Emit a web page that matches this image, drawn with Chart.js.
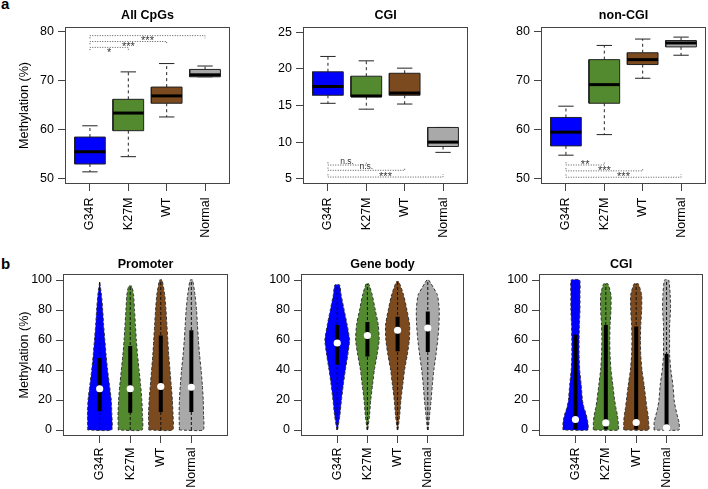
<!DOCTYPE html>
<html><head><meta charset="utf-8">
<script src="https://cdn.jsdelivr.net/npm/chart.js@4"></script>
<style>
body{margin:0;background:#fff;width:708px;height:489px;position:relative;overflow:hidden;font-family:'Liberation Sans',Arial,sans-serif}
canvas{position:absolute;left:0;top:0}
.pl{position:absolute;font:bold 15px 'Liberation Sans',Arial,sans-serif;line-height:15px;color:#000}
</style></head><body>
<div class="pl" style="left:1px;top:-4px">a</div>
<div class="pl" style="left:1px;top:256px">b</div>
<canvas id="c1" width="708" height="489"></canvas>
<canvas id="c2" width="708" height="489"></canvas>
<canvas id="c3" width="708" height="489"></canvas>
<canvas id="c4" width="708" height="489"></canvas>
<canvas id="c5" width="708" height="489"></canvas>
<canvas id="c6" width="708" height="489"></canvas>
<script>
// ---------- DATA ----------
const groups = ['G34R','K27M','WT','Normal'];

// Panel a: box plot statistics (lower whisker, Q1, median, Q3, upper whisker)
const allCpgLow  = [51.4, 54.5, 62.6, 70.8];
const allCpgQ1   = [53.0, 59.8, 65.4, 70.8];
const allCpgMed  = [55.5, 63.4, 66.9, 71.2];
const allCpgQ3   = [58.5, 66.2, 68.7, 72.3];
const allCpgHigh = [60.8, 71.8, 73.5, 73.0];

const cgiLow  = [15.3, 14.5, 15.2, 8.6];
const cgiQ1   = [16.4, 16.2, 16.4, 9.4];
const cgiMed  = [17.6, 16.3, 16.7, 10.0];
const cgiQ3   = [19.6, 19.0, 19.4, 12.0];
const cgiHigh = [21.7, 21.1, 20.1, 12.0];

const nonCgiLow  = [54.8, 59.0, 70.5, 75.2];
const nonCgiQ1   = [56.7, 65.4, 73.3, 76.9];
const nonCgiMed  = [59.5, 69.2, 74.3, 77.7];
const nonCgiQ3   = [62.5, 74.3, 75.7, 78.2];
const nonCgiHigh = [64.8, 77.2, 78.5, 78.9];

const allCpgTicks = [50, 60, 70, 80];
const cgiTicks    = [5, 10, 15, 20, 25];
const nonCgiTicks = [50, 60, 70, 80];
const pctTicks    = [0, 20, 40, 60, 80, 100];

// significance brackets
const allCpgSigPairs = [[1,4],[1,3],[1,2]];
const allCpgSigY     = [79.2, 78.0, 76.8];
const allCpgSigText  = ['***','***','*'];
const cgiSigPairs = [[1,2],[1,3],[1,4]];
const cgiSigY     = [6.87, 6.15, 5.23];
const cgiSigText  = ['n.s.','n.s.','***'];
const nonCgiSigPairs = [[1,2],[1,3],[1,4]];
const nonCgiSigY     = [52.8, 51.6, 50.3];
const nonCgiSigText  = ['**','***','***'];

// Panel b: violins (half-width of density at each level, per group)
const promoterLevels = [0, 10, 20, 30, 40, 50, 60, 70, 80, 90];
const promoterWidth = [
  [0.39,0.40,0.38,0.32,0.26,0.21,0.17,0.13,0.10,0.06],
  [0.39,0.40,0.38,0.34,0.29,0.24,0.20,0.17,0.14,0.11],
  [0.39,0.40,0.38,0.34,0.30,0.26,0.23,0.20,0.17,0.13],
  [0.39,0.40,0.39,0.36,0.32,0.27,0.23,0.20,0.17,0.12]];
const promoterMax = [98.8, 95.9, 100, 100];
const promoterTopWidth = [0.0, 0.05, 0.04, 0.04];
const promoterQ1  = [12.5, 11.5, 12, 12];
const promoterMed = [27.5, 27.5, 29, 28.5];
const promoterQ3  = [48, 56, 63, 66.5];

const geneBodyLevels = [0, 10, 20, 30, 40, 50, 60, 70, 80, 90];
const geneBodyWidth = [
  [0.01,0.09,0.14,0.20,0.27,0.35,0.41,0.33,0.23,0.13],
  [0.01,0.07,0.11,0.17,0.23,0.32,0.39,0.36,0.26,0.16],
  [0.01,0.07,0.11,0.17,0.23,0.32,0.39,0.40,0.31,0.20],
  [0.01,0.06,0.11,0.15,0.20,0.27,0.33,0.37,0.38,0.32]];
const geneBodyMax = [96.7, 97.5, 98.9, 100];
const geneBodyTopWidth = [0.08, 0.04, 0.04, 0.03];
const geneBodyQ1  = [43.5, 49, 52.5, 52];
const geneBodyMed = [58, 63, 66.5, 68];
const geneBodyQ3  = [70, 72, 75.5, 79];

const cgiVioLevels = [0, 5, 10, 15, 20, 30, 40, 50, 60, 70, 80, 90];
const cgiVioWidth = [
  [0.41,0.41,0.36,0.28,0.23,0.19,0.14,0.12,0.12,0.13,0.15,0.15],
  [0.41,0.41,0.38,0.33,0.29,0.23,0.17,0.14,0.13,0.14,0.17,0.17],
  [0.41,0.41,0.39,0.35,0.32,0.26,0.19,0.15,0.14,0.15,0.18,0.18],
  [0.41,0.41,0.35,0.29,0.25,0.21,0.14,0.10,0.10,0.10,0.13,0.12]];
const cgiVioMax = [100, 97.5, 97.5, 100];
const cgiVioTopWidth = [0.14, 0.07, 0.07, 0.07];
const cgiVioQ1  = [0.5, 0.5, 0.5, 0.5];
const cgiVioMed = [7, 4.7, 5, 1.5];
const cgiVioQ3  = [63.5, 70, 69, 50.8];

// ---------- STYLE ----------
const groupColors = ['#0000FF', '#548A2F', '#7B4A1E', '#A9A9A9'];
const FONT = "'Liberation Sans', Arial, sans-serif";
Chart.defaults.font.family = FONT;
Chart.defaults.color = '#000';

function boxDatasets(low, q1, med, q3, high) {
  const hw = 0.4, sw = 0.2, ds = [];
  groups.forEach((g, k) => {
    const i = k + 1;
    ds.push({data: [{x:i-hw,y:q1[k]},{x:i+hw,y:q1[k]},{x:i+hw,y:q3[k]},{x:i-hw,y:q3[k]},{x:i-hw,y:q1[k]}],
      fill: 'shape', backgroundColor: groupColors[k], borderColor: '#222', borderWidth: 1, order: 2});
    ds.push({data: [{x:i-hw,y:med[k]},{x:i+hw,y:med[k]}], borderColor: '#000', borderWidth: 3, borderCapStyle: 'butt', order: 1});
    ds.push({data: [{x:i,y:q3[k]},{x:i,y:high[k]},{x:i,y:null},{x:i,y:q1[k]},{x:i,y:low[k]}],
      borderColor: '#222', borderWidth: 1, borderDash: [3,3], order: 3});
    ds.push({data: [{x:i-sw,y:high[k]},{x:i+sw,y:high[k]},{x:i,y:null},{x:i-sw,y:low[k]},{x:i+sw,y:low[k]}],
      borderColor: '#222', borderWidth: 1, order: 3});
  });
  return ds;
}

function sigDatasets(pairs, ys, tick) {
  return pairs.map((p, j) => ({
    data: [{x:p[0],y:ys[j]+tick},{x:p[0],y:ys[j]},{x:p[1],y:ys[j]},{x:p[1],y:ys[j]+tick}],
    borderColor: '#555', borderWidth: 1, borderDash: [1,1.5], order: 4}));
}

function violinDatasets(levels, widths, maxs, topW, q1, med, q3) {
  const ds = [];
  groups.forEach((g, k) => {
    const i = k + 1, w = widths[k];
    const left = levels.map((y, j) => ({x: i - w[j], y}));
    const right = levels.map((y, j) => ({x: i + w[j], y})).reverse();
    const poly = [...left, {x:i-topW[k],y:maxs[k]}, {x:i+topW[k],y:maxs[k]}, ...right, left[0]];
    ds.push({data: poly, fill: 'shape', backgroundColor: groupColors[k], borderColor: '#333',
      borderWidth: 1, borderDash: [3,2], tension: 0.15, order: 3});
    ds.push({data: [{x:i,y:levels[0]},{x:i,y:maxs[k]}], borderColor: '#111', borderWidth: 1, borderDash: [3,2], order: 2});
    ds.push({data: [{x:i,y:q1[k]},{x:i,y:q3[k]}], borderColor: '#000', borderWidth: 4, borderCapStyle: 'butt', order: 1});
    ds.push({data: [{x:i,y:med[k]}], showLine: false, pointRadius: 3.6, pointBackgroundColor: '#fff',
      pointBorderColor: '#fff', pointBorderWidth: 0, order: 0});
  });
  return ds;
}

const framePlugin = {
  id: 'frame',
  afterDatasetsDraw(chart) {
    const a = chart.chartArea, c = chart.ctx;
    c.save(); c.strokeStyle = '#444'; c.lineWidth = 1;
    c.strokeRect(Math.round(a.left) + 0.5, Math.round(a.top) + 0.5,
      Math.round(a.right) - Math.round(a.left) - 1, Math.round(a.bottom) - Math.round(a.top) - 1);
    c.restore();
  }
};

const sigPlugin = {
  id: 'sigLabels',
  afterDatasetsDraw(chart, args, opts) {
    if (!opts || !opts.text) return;
    const c = chart.ctx, xs = chart.scales.x, ys = chart.scales.y;
    c.save(); c.fillStyle = '#333'; c.textAlign = 'center'; c.textBaseline = 'alphabetic';
    opts.text.forEach((t, j) => {
      const mid = (opts.pairs[j][0] + opts.pairs[j][1]) / 2;
      const isStar = t.indexOf('*') >= 0;
      c.font = (isStar ? 11 : 8.5) + 'px ' + FONT;
      const off = isStar ? opts.starOffset : opts.textOffset;
      c.fillText(t, xs.getPixelForValue(mid), ys.getPixelForValue(opts.ys[j]) + off);
    });
    c.restore();
  }
};

function panel(id, o) {
  const yAxisW = o.yTitle ? o.L : 45;
  const padLeft = o.L - yAxisW;
  const xAxisH = Math.min(62, 489 - o.B);
  const titleLH = 15;
  const padTop = o.titleY - titleLH / 2;
  const gridOpts = {display: true, drawOnChartArea: false, drawTicks: true, tickLength: 7, color: '#444', tickWidth: 1};
  new Chart(document.getElementById(id), {
    type: 'line',
    data: {datasets: o.datasets},
    options: {
      responsive: false, animation: false, events: [], devicePixelRatio: 1,
      layout: {padding: {left: padLeft, right: 708 - o.R, top: padTop, bottom: 489 - o.B - xAxisH}},
      elements: {point: {radius: 0}, line: {tension: 0}},
      spanGaps: false,
      plugins: {
        legend: {display: false}, tooltip: {enabled: false},
        title: {display: true, text: o.title, fullSize: false, color: '#000',
          font: {size: 12.5, weight: 'bold', lineHeight: 1.2},
          padding: {top: 0, bottom: o.T - padTop - titleLH}},
        sigLabels: o.sig || {}
      },
      scales: {
        x: {type: 'linear', min: o.xMin, max: o.xMax,
          afterBuildTicks: s => { s.ticks = [1,2,3,4].map(v => ({value: v})); },
          afterFit: s => { s.height = xAxisH; },
          grid: gridOpts, border: {display: false},
          ticks: {autoSkip: false, maxRotation: 90, minRotation: 90, padding: o.xPad,
            font: {size: 12.5}, color: '#000', callback: v => groups[v - 1]}},
        y: {type: 'linear', min: o.yMin, max: o.yMax,
          afterBuildTicks: s => { s.ticks = o.yTicks.map(v => ({value: v})); },
          afterFit: s => { s.width = yAxisW; },
          grid: gridOpts, border: {display: false},
          ticks: {padding: 4, font: {size: 12.5}, color: '#000'},
          title: {display: !!o.yTitle, text: o.yTitle || '', font: {size: 12.5, lineHeight: 1.2}, color: '#000',
            padding: {top: 17, bottom: 0}}}
      }
    },
    plugins: [framePlugin, sigPlugin]
  });
}

// ---------- PANELS ----------
panel('c1', {L: 65, R: 230, T: 27, B: 184, titleY: 15.5, title: 'All CpGs', yTitle: 'Methylation (%)',
  xMin: 0.35, xMax: 4.65, yMin: 48.92, yMax: 80.96, yTicks: allCpgTicks, xPad: 6.5,
  datasets: [...boxDatasets(allCpgLow, allCpgQ1, allCpgMed, allCpgQ3, allCpgHigh), ...sigDatasets(allCpgSigPairs, allCpgSigY, -0.55)],
  sig: {pairs: allCpgSigPairs, ys: allCpgSigY, text: allCpgSigText, starOffset: 8.8, textOffset: 8}});

panel('c2', {L: 303, R: 468, T: 27, B: 184, titleY: 15.5, title: 'CGI',
  xMin: 0.35, xMax: 4.65, yMin: 4.28, yMax: 25.72, yTicks: cgiTicks, xPad: 6.5,
  datasets: [...boxDatasets(cgiLow, cgiQ1, cgiMed, cgiQ3, cgiHigh), ...sigDatasets(cgiSigPairs, cgiSigY, 0.37)],
  sig: {pairs: cgiSigPairs, ys: cgiSigY, text: cgiSigText, starOffset: 3.2, textOffset: -1.2}});

panel('c3', {L: 541, R: 706, T: 27, B: 184, titleY: 15.5, title: 'non-CGI',
  xMin: 0.35, xMax: 4.65, yMin: 48.92, yMax: 80.96, yTicks: nonCgiTicks, xPad: 6.5,
  datasets: [...boxDatasets(nonCgiLow, nonCgiQ1, nonCgiMed, nonCgiQ3, nonCgiHigh), ...sigDatasets(nonCgiSigPairs, nonCgiSigY, 0.55)],
  sig: {pairs: nonCgiSigPairs, ys: nonCgiSigY, text: nonCgiSigText, starOffset: 3.2, textOffset: -1.2}});

panel('c4', {L: 63, R: 228, T: 274, B: 436, titleY: 265, title: 'Promoter', yTitle: 'Methylation (%)',
  xMin: -0.2, xMax: 5.2, yMin: -4, yMax: 104, yTicks: pctTicks, xPad: 4.5,
  datasets: violinDatasets(promoterLevels, promoterWidth, promoterMax, promoterTopWidth, promoterQ1, promoterMed, promoterQ3)});

panel('c5', {L: 301, R: 464, T: 274, B: 436, titleY: 265, title: 'Gene body',
  xMin: -0.2, xMax: 5.2, yMin: -4, yMax: 104, yTicks: pctTicks, xPad: 4.5,
  datasets: violinDatasets(geneBodyLevels, geneBodyWidth, geneBodyMax, geneBodyTopWidth, geneBodyQ1, geneBodyMed, geneBodyQ3)});

panel('c6', {L: 539, R: 703, T: 274, B: 436, titleY: 265, title: 'CGI',
  xMin: -0.2, xMax: 5.2, yMin: -4, yMax: 104, yTicks: pctTicks, xPad: 4.5,
  datasets: violinDatasets(cgiVioLevels, cgiVioWidth, cgiVioMax, cgiVioTopWidth, cgiVioQ1, cgiVioMed, cgiVioQ3)});
</script>
</body></html>
